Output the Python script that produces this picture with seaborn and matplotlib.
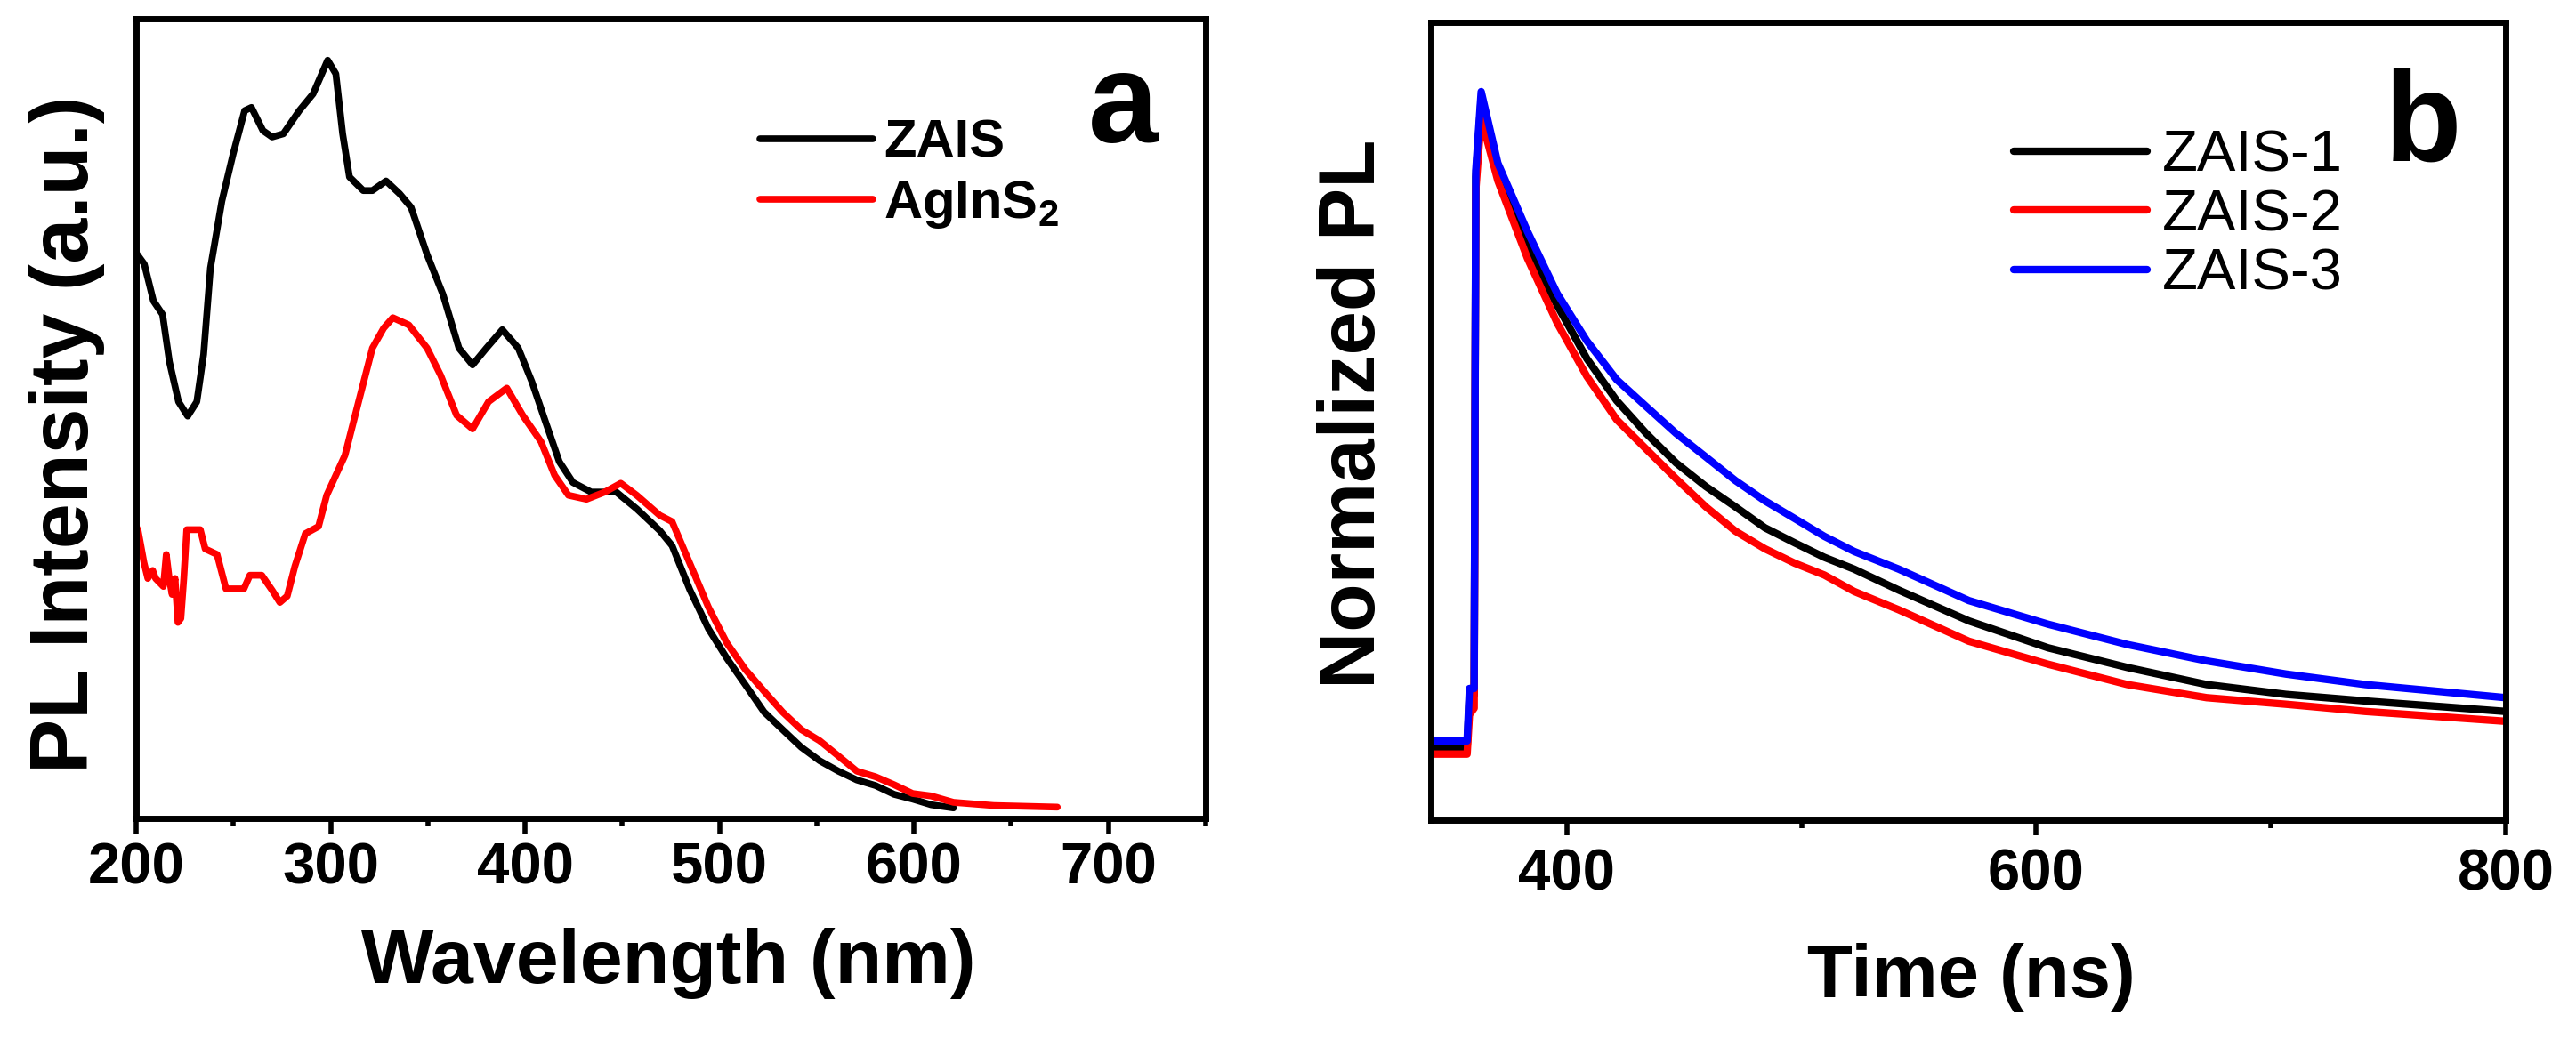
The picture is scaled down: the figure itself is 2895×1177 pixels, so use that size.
import matplotlib
matplotlib.use("Agg")
import matplotlib.pyplot as plt
import pandas as pd
import seaborn as sns
from matplotlib.ticker import MultipleLocator

# ---- panel a: PL spectra (axis fraction units) ----
wl_zais = [200.0, 204.2, 208.9, 213.6, 217.1, 221.8, 226.5, 231.2, 234.7, 238.2,
           244.1, 249.9, 255.8, 259.3, 265.2, 269.9, 275.7, 283.9, 291.0, 298.5,
           302.7, 306.2, 309.7, 316.8, 321.5, 328.5, 335.5, 341.4, 349.6, 357.8,
           366.0, 373.0, 380.1, 388.3, 396.5, 403.5, 410.5, 417.6, 424.6, 434.0,
           446.9, 457.4, 469.2, 475.6, 484.7, 494.3, 503.8, 513.3, 522.9, 532.4,
           542.0, 551.5, 561.1, 570.6, 580.2, 589.8, 599.3, 608.8, 620.3]
pl_zais = [0.707, 0.693, 0.647, 0.630, 0.571, 0.521, 0.503, 0.521, 0.580, 0.688,
           0.772, 0.831, 0.885, 0.889, 0.860, 0.852, 0.856, 0.885, 0.906, 0.948,
           0.931, 0.856, 0.802, 0.785, 0.785, 0.797, 0.781, 0.764, 0.705, 0.655,
           0.588, 0.567, 0.588, 0.611, 0.588, 0.546, 0.496, 0.446, 0.420, 0.408,
           0.408, 0.387, 0.360, 0.341, 0.286, 0.237, 0.200, 0.167, 0.133, 0.111,
           0.089, 0.072, 0.059, 0.048, 0.041, 0.030, 0.024, 0.017, 0.013]

wl_agins2 = [200.0, 201.0, 204.0, 206.0, 208.5, 210.0, 214.0, 215.5, 217.0, 218.5,
             220.0, 221.5, 223.0, 224.5, 226.0, 229.0, 233.0, 235.5, 241.6, 246.2,
             251.0, 255.4, 258.5, 264.6, 270.0, 273.9, 277.7, 281.6, 287.0, 293.8,
             298.0, 307.4, 314.4, 321.5, 327.3, 332.0, 340.2, 349.6, 356.6, 364.8,
             373.0, 381.2, 390.6, 398.8, 408.2, 415.2, 422.3, 431.6, 441.0, 449.2,
             457.4, 469.2, 475.6, 484.7, 494.3, 503.8, 513.3, 522.9, 532.4, 542.0,
             551.5, 561.1, 570.6, 580.2, 589.8, 599.3, 608.8, 620.3, 641.0, 673.7]
pl_agins2 = [0.365, 0.360, 0.320, 0.300, 0.310, 0.300, 0.290, 0.330, 0.300, 0.280,
             0.300, 0.245, 0.250, 0.300, 0.361, 0.361, 0.361, 0.337, 0.330, 0.287,
             0.287, 0.287, 0.304, 0.304, 0.285, 0.270, 0.278, 0.315, 0.356, 0.365,
             0.404, 0.454, 0.521, 0.588, 0.613, 0.626, 0.617, 0.588, 0.554, 0.504,
             0.487, 0.521, 0.538, 0.504, 0.471, 0.429, 0.404, 0.399, 0.408, 0.419,
             0.404, 0.379, 0.371, 0.319, 0.264, 0.219, 0.186, 0.159, 0.133, 0.111,
             0.097, 0.078, 0.059, 0.052, 0.042, 0.031, 0.028, 0.020, 0.016, 0.014]

# ---- panel b: PL decay (normalized, 0 = baseline, 1 = peak) ----
time_ns = [342, 357.5, 358.5, 360.5, 361.2, 363.5, 370.6, 383.2, 395.9, 408.5,
           421.2, 433.8, 446.5, 459.2, 471.8, 484.4, 497.1, 509.7, 522.4, 541.4,
           571.3, 605.0, 638.8, 672.6, 706.4, 740.2, 800]
decay_zais1 = [0.0, 0.0, 0.08, 0.08, 0.87, 0.99, 0.880, 0.764, 0.674, 0.593,
               0.529, 0.479, 0.434, 0.398, 0.367, 0.335, 0.312, 0.290, 0.272, 0.240,
               0.193, 0.152, 0.122, 0.096, 0.081, 0.071, 0.055]
decay_zais2 = [-0.01, -0.01, 0.05, 0.06, 0.85, 0.96, 0.864, 0.746, 0.647, 0.566,
               0.500, 0.455, 0.410, 0.367, 0.330, 0.303, 0.281, 0.263, 0.238, 0.210,
               0.162, 0.127, 0.096, 0.076, 0.066, 0.055, 0.040]
decay_zais3 = [0.01, 0.01, 0.09, 0.09, 0.88, 1.00, 0.891, 0.787, 0.692, 0.620,
               0.561, 0.520, 0.479, 0.443, 0.407, 0.376, 0.349, 0.322, 0.299, 0.272,
               0.224, 0.188, 0.157, 0.132, 0.112, 0.096, 0.076]

spec_names = ["ZAIS", "AgInS$_2$"]
spec_colors = ["#000000", "#ff0000"]
decay_names = ["ZAIS-1", "ZAIS-2", "ZAIS-3"]
decay_colors = ["#000000", "#ff0000", "#0000ff"]

sns.set_style("ticks")
plt.rcParams["font.family"] = ["Liberation Sans", "DejaVu Sans"]
plt.rcParams["font.weight"] = "bold"
plt.rcParams["mathtext.default"] = "regular"
plt.rcParams["text.color"] = "black"
plt.rcParams["axes.labelcolor"] = "black"
plt.rcParams["xtick.color"] = "black"
plt.rcParams["ytick.color"] = "black"

df_a = pd.concat([
    pd.DataFrame({"wl": wl_zais, "pl": pl_zais, "sample": spec_names[0]}),
    pd.DataFrame({"wl": wl_agins2, "pl": pl_agins2, "sample": spec_names[1]}),
])
df_b = pd.concat([
    pd.DataFrame({"t": time_ns, "pl": d, "sample": n})
    for d, n in zip([decay_zais1, decay_zais2, decay_zais3], decay_names)
])

fig = plt.figure(figsize=(28.95, 11.77), dpi=100)
ax_a = fig.add_axes([0.05285, 0.2184, 0.4152, 0.7638])
ax_b = fig.add_axes([0.5554, 0.2167, 0.4173, 0.7621])

sns.lineplot(data=df_a, x="wl", y="pl", hue="sample", hue_order=spec_names,
             palette=dict(zip(spec_names, spec_colors)), estimator=None,
             sort=False, linewidth=5.5, ax=ax_a)
sns.lineplot(data=df_b, x="t", y="pl", hue="sample", hue_order=decay_names,
             palette=dict(zip(decay_names, decay_colors)), estimator=None,
             sort=False, linewidth=6, ax=ax_b)

for ax in (ax_a, ax_b):
    for sp in ax.spines.values():
        sp.set_visible(True)
        sp.set_linewidth(5)
        sp.set_color("black")
    ax.set_yticks([])
    ax.tick_params(axis="x", which="both", direction="out", width=4,
                   top=False, colors="black")
    ax.tick_params(axis="x", which="major", length=12, labelsize=47)
    ax.tick_params(axis="x", which="minor", length=6.5)

# panel a
ax_a.set_xlim(200, 750)
ax_a.set_ylim(0, 1)
ax_a.xaxis.set_major_locator(MultipleLocator(100))
ax_a.xaxis.set_minor_locator(MultipleLocator(50))
ax_a.tick_params(axis="x", which="major", pad=7)
ax_a.set_xlabel("Wavelength (nm)", fontsize=62, fontweight="bold")
ax_a.set_ylabel("PL Intensity (a.u.)", fontsize=66, fontweight="bold")
ax_a.xaxis.set_label_coords(0.498, -0.137)
ax_a.yaxis.set_label_coords(-0.029, 0.48)
h, l = ax_a.get_legend_handles_labels()
ax_a.legend(h, l, loc="center left", bbox_to_anchor=(0.583, 0.805), frameon=False,
            borderaxespad=0, borderpad=0, handlelength=2.13, handletextpad=0.2,
            labelspacing=0.2, prop={"size": 43, "weight": "bold"})
ax_a.text(0.9226, 0.845, "a", transform=ax_a.transAxes, ha="center",
          va="baseline", fontsize=102, fontweight="bold", color="black")

# panel b
ax_b.set_xlim(342, 800)
ax_b.set_ylim(-0.1107, 1.1058)
ax_b.xaxis.set_major_locator(MultipleLocator(200))
ax_b.xaxis.set_minor_locator(MultipleLocator(100))
ax_b.tick_params(axis="x", which="major", pad=11)
ax_b.set_xlabel("Time (ns)", fontsize=60, fontweight="bold")
ax_b.set_ylabel("Normalized PL", fontsize=64, fontweight="bold")
ax_b.xaxis.set_label_coords(0.503, -0.154)
ax_b.yaxis.set_label_coords(-0.036, 0.509)
h, l = ax_b.get_legend_handles_labels()
ax_b.legend(h, l, loc="center left", bbox_to_anchor=(0.542, 0.758), frameon=False,
            borderaxespad=0, borderpad=0, handlelength=2.3, handletextpad=0.26,
            labelspacing=0.1, prop={"size": 47, "weight": "normal"})
ax_b.text(0.923, 0.827, "b", transform=ax_b.transAxes, ha="center",
          va="baseline", fontsize=102, fontweight="bold", color="black")

for ax in (ax_a, ax_b):
    for lbl in ax.get_xticklabels():
        lbl.set_fontweight("bold")
        lbl.set_color("black")

fig.savefig("out.png", dpi=100)
